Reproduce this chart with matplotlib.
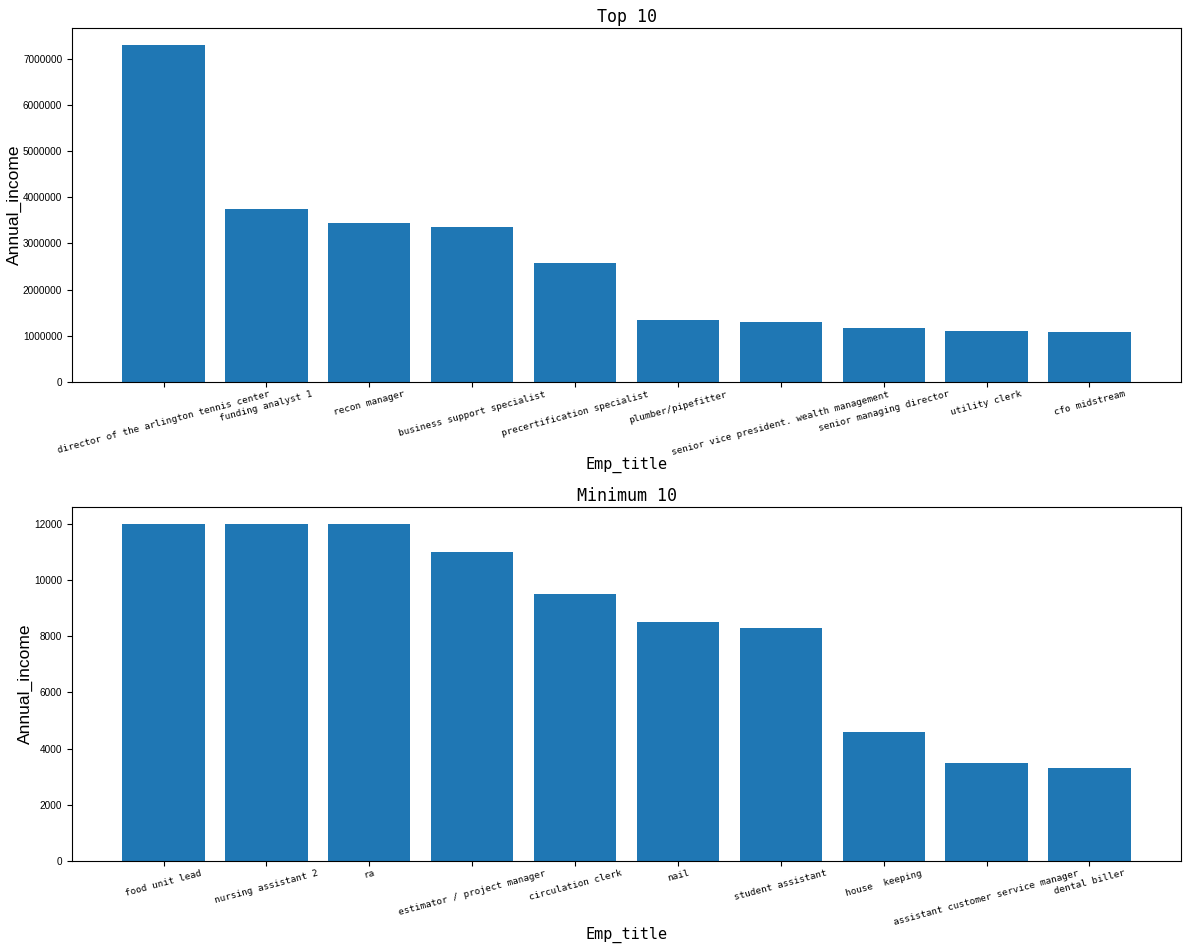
import matplotlib
matplotlib.use('Agg')
import matplotlib.pyplot as plt

top_titles = ['director of the arlington tennis center', 'funding analyst 1',
              'recon manager', 'business support specialist',
              'precertification specialist', 'plumber/pipefitter',
              'senior vice president. wealth management',
              'senior managing director', 'utility clerk', 'cfo midstream']
top_income = [7300000, 3750000, 3446000, 3360000, 2580000,
              1344000, 1300000, 1170000, 1105000, 1085000]

min_titles = ['food unit lead', 'nursing assistant 2', 'ra',
              'estimator / project manager', 'circulation clerk', 'nail',
              'student assistant', 'house  keeping',
              'assistant customer service manager', 'dental biller']
min_income = [12000, 12000, 12000, 11000, 9500, 8500, 8300, 4600, 3500, 3300]

mono = 'DejaVu Sans Mono'
sans = 'Liberation Sans'

fig = plt.figure(figsize=(11.92, 9.52), dpi=100)
ax1 = fig.add_axes([0.0604, 0.5987, 0.9304, 0.3719])
ax2 = fig.add_axes([0.0604, 0.0956, 0.9304, 0.3718])

for ax, titles, income, name in [(ax1, top_titles, top_income, 'Top 10'),
                                 (ax2, min_titles, min_income, 'Minimum 10')]:
    x = range(len(titles))
    ax.bar(x, income, color='#1f77b4')
    ax.set_xticks(list(x))
    ax.set_xticklabels(titles, rotation=15, fontsize=6.7, family=mono)
    ax.tick_params(axis='x', pad=2)
    ax.ticklabel_format(axis='y', style='plain', useOffset=False)
    for t in ax.get_yticklabels():
        t.set_family(sans)
        t.set_fontsize(7.2)
    ax.set_title(name, fontsize=12, family=mono, pad=4)
    ax.set_xlabel('Emp_title', fontsize=11, family=mono, labelpad=0)
    ax.set_ylabel('Annual_income', fontsize=12.5, family=sans, labelpad=1)

plt.savefig('out.png', dpi=100)
